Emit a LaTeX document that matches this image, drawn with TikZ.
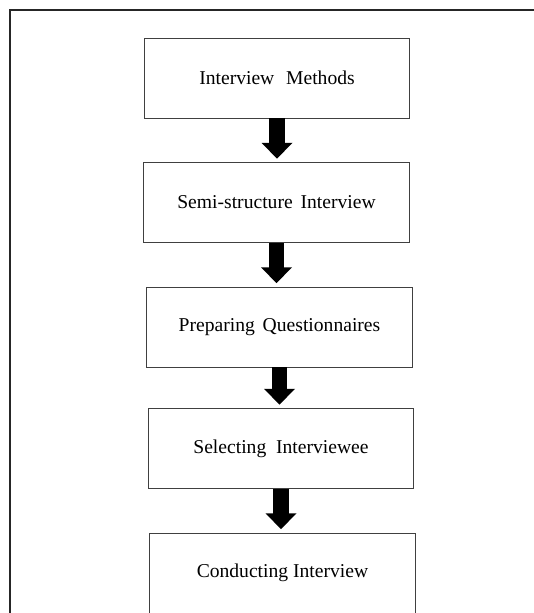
\documentclass[tikz,border=0pt]{standalone}
\usepackage{fontspec}
\setmainfont{Liberation Serif}
\usetikzlibrary{arrows.meta}

\begin{document}
\begin{tikzpicture}[x=0.75pt,y=-0.75pt,
  stagebox/.style={draw=black!75,line width=0.6pt,minimum width=199pt,minimum height=60pt,
    inner sep=0pt,font=\fontsize{14.7}{17}\selectfont},
  blockarrow/.style={line width=11.5pt,-{Triangle[width=22.5pt,length=12pt]},shorten >=2.5pt}]
  \useasboundingbox (0,0) rectangle (534,613);
  \draw[line width=1.5pt,black!85] (10,620) -- (10,10) -- (540,10);
  \node[stagebox] (methods)   at (277.0,78.0)  {Interview\hspace{0.6em}Methods};
  \node[stagebox] (semi)      at (276.5,202.5) {Semi-structure\hspace{0.4em}Interview};
  \node[stagebox] (prepare)   at (279.5,327.0) {Preparing\hspace{0.4em}Questionnaires};
  \node[stagebox] (select)    at (281.0,448.5) {Selecting\hspace{0.5em}Interviewee};
  \node[stagebox] (conduct)   at (282.5,573.0) {Conducting Interview};
  \draw[blockarrow] (methods.south) -- (methods.south |- semi.north);
  \draw[blockarrow] (semi.south) -- (semi.south |- prepare.north);
  \draw[blockarrow] (prepare.south) -- (prepare.south |- select.north);
  \draw[blockarrow] (select.south) -- (select.south |- conduct.north);
\end{tikzpicture}
\end{document}
